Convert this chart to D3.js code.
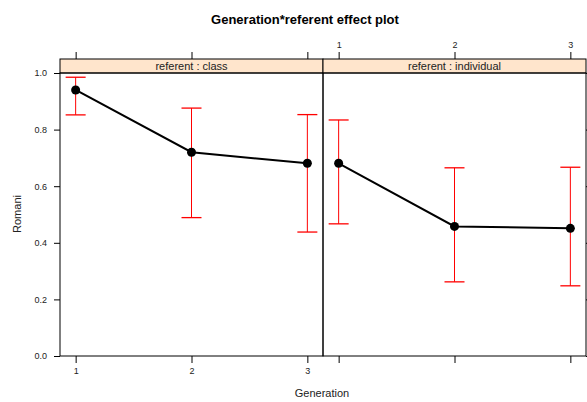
<!DOCTYPE html>
<html>
<head>
<meta charset="utf-8">
<script src="https://cdn.jsdelivr.net/npm/d3@7"></script>
<style>
  body { margin: 0; background: #fff; }
  svg { display: block; font-family: "Liberation Sans", Arial, sans-serif; }
</style>
</head>
<body>
<div class="chart"></div>
<script>
// Data
const generations = [1, 2, 3];
const referents = ['class', 'individual'];
const fitClass = [0.940, 0.720, 0.681];
const lowerClass = [0.852, 0.489, 0.438];
const upperClass = [0.985, 0.876, 0.853];
const fitIndividual = [0.681, 0.458, 0.451];
const lowerIndividual = [0.467, 0.262, 0.248];
const upperIndividual = [0.834, 0.665, 0.667];
const yTicks = [0, 0.2, 0.4, 0.6, 0.8, 1.0];

const width = 587;
const height = 402;
const plotTop = 73, plotBottom = 356;
const panelLeft = [60, 323];
const panelWidth = 263;
const stripH = 14;

const svg = d3.select('.chart').append('svg')
  .attr('width', width)
  .attr('height', height);

const y = d3.scaleLinear().domain([0, 1]).range([plotBottom, plotTop]);

const panels = [
  { name: referents[0], fit: fitClass, lower: lowerClass, upper: upperClass },
  { name: referents[1], fit: fitIndividual, lower: lowerIndividual, upper: upperIndividual }
];

// title
svg.append('text')
  .attr('x', 305).attr('y', 24)
  .attr('text-anchor', 'middle')
  .attr('font-size', 13).attr('font-weight', 'bold')
  .text('Generation*referent effect plot');

panels.forEach((p, i) => {
  const x0 = panelLeft[i];
  const x = d3.scaleLinear().domain([0.865, 3.135]).range([x0, x0 + panelWidth]);
  const g = svg.append('g');

  // strip
  g.append('rect')
    .attr('x', x0).attr('y', plotTop - stripH)
    .attr('width', panelWidth).attr('height', stripH)
    .attr('fill', '#ffe5cc').attr('stroke', '#000').attr('stroke-width', 1);
  g.append('text')
    .attr('x', x0 + panelWidth / 2).attr('y', plotTop - 3)
    .attr('text-anchor', 'middle').attr('font-size', 11).attr('fill', '#222')
    .text('referent : ' + p.name);

  // bottom axis (labels on left panel only)
  const bAxis = d3.axisBottom(x).tickValues(generations).tickSize(7).tickPadding(5)
    .tickFormat(i === 0 ? d3.format('d') : () => '');
  g.append('g').attr('transform', `translate(0,${plotBottom})`).call(bAxis);

  // top axis (labels on right panel only)
  const tAxis = d3.axisTop(x).tickValues(generations).tickSize(7).tickPadding(4)
    .tickFormat(i === 1 ? d3.format('d') : () => '');
  g.append('g').attr('transform', `translate(0,${plotTop - stripH})`).call(tAxis);

  // error bars
  const cap = 10;
  generations.forEach((gen, j) => {
    const cx = x(gen);
    g.append('line').attr('x1', cx).attr('x2', cx)
      .attr('y1', y(p.lower[j])).attr('y2', y(p.upper[j]))
      .attr('stroke', '#ff0000').attr('stroke-width', 1);
    [p.lower[j], p.upper[j]].forEach(v => {
      g.append('line').attr('x1', cx - cap).attr('x2', cx + cap)
        .attr('y1', y(v)).attr('y2', y(v))
        .attr('stroke', '#ff0000').attr('stroke-width', 1.3);
    });
  });

  // fitted line
  g.append('path')
    .datum(generations.map((gen, j) => [gen, p.fit[j]]))
    .attr('fill', 'none').attr('stroke', '#000').attr('stroke-width', 2)
    .attr('d', d3.line().x(d => x(d[0])).y(d => y(d[1])));

  g.selectAll('circle.pt')
    .data(generations.map((gen, j) => [gen, p.fit[j]]))
    .enter().append('circle')
    .attr('class', 'pt')
    .attr('cx', d => x(d[0])).attr('cy', d => y(d[1]))
    .attr('r', 4.5).attr('fill', '#000');

  // panel border
  g.append('rect')
    .attr('x', x0).attr('y', plotTop)
    .attr('width', panelWidth).attr('height', plotBottom - plotTop)
    .attr('fill', 'none').attr('stroke', '#000').attr('stroke-width', 1);
});

// left and right y axes
const lAxis = d3.axisLeft(y).tickValues(yTicks).tickSize(6).tickPadding(7).tickFormat(d3.format('.1f'));
svg.append('g').attr('transform', `translate(${panelLeft[0]},0)`).call(lAxis);
const rAxis = d3.axisRight(y).tickValues(yTicks).tickSize(6).tickFormat(() => '');
svg.append('g').attr('transform', `translate(${panelLeft[1] + panelWidth},0)`).call(rAxis);

svg.selectAll('.domain').remove();
svg.selectAll('.tick text').attr('font-size', 9).attr('fill', '#222')
  .attr('font-family', '"Liberation Sans", Arial, sans-serif');

// axis titles
svg.append('text')
  .attr('x', 322).attr('y', 397)
  .attr('text-anchor', 'middle').attr('font-size', 11).attr('fill', '#222')
  .text('Generation');
svg.append('text')
  .attr('transform', 'translate(21,214) rotate(-90)')
  .attr('text-anchor', 'middle').attr('font-size', 11).attr('fill', '#222')
  .text('Romani');
</script>
</body>
</html>
